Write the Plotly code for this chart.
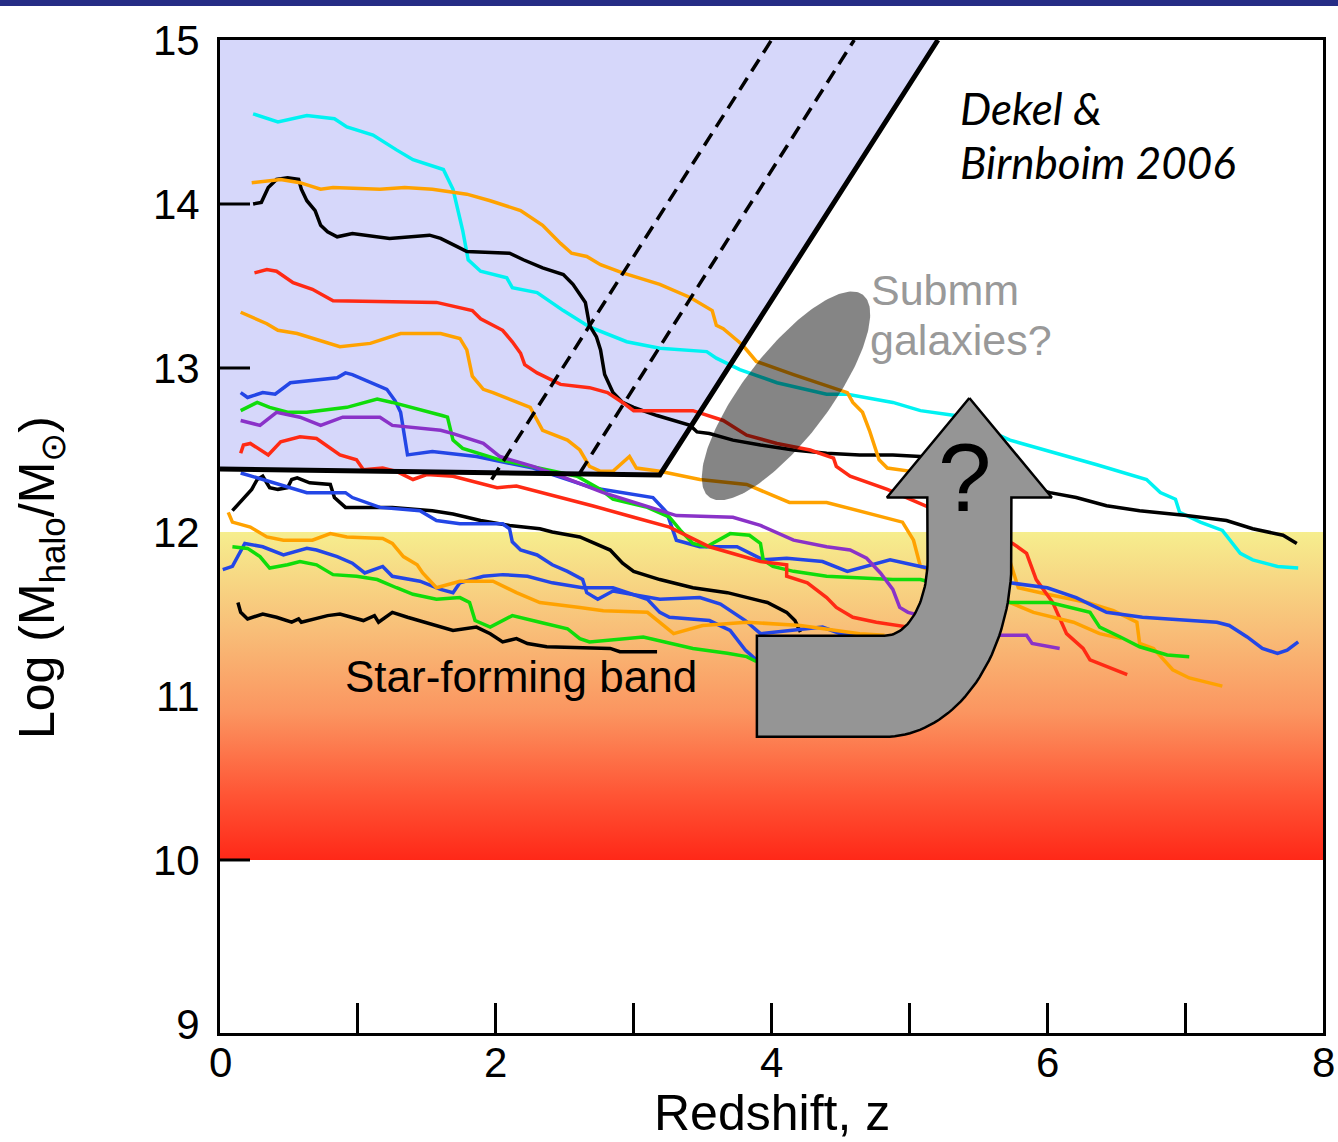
import numpy as np
import plotly.graph_objects as go

# ---------------------------------------------------------------- layout geometry
W, H = 1338, 1142
ML, MR, MT, MB = 220, 15, 40, 109
X_RANGE = [0, 8]
Y_RANGE = [8.945, 15.0]
PLOT_W = W - ML - MR
PLOT_H = H - MT - MB
PX_PER_Z = PLOT_W / (X_RANGE[1] - X_RANGE[0])
PX_PER_M = PLOT_H / (Y_RANGE[1] - Y_RANGE[0])

# ---------------------------------------------------------------- axis ticks
x_tick_vals = [0, 1, 2, 3, 4, 5, 6, 7, 8]
x_label_vals = [0, 2, 4, 6, 8]
y_tick_vals = [9, 10, 11, 12, 13, 14, 15]
y_tick_text = ["9", "10", "11", "12", "13", "14", "15"]
y_tick_marks = [10, 13, 14]

# ---------------------------------------------------------------- regions
# hot-halo (shock heated) zone: cold-flow boundary of Dekel & Birnboim 2006
hot_z = [0.0, 3.19, 5.207, 0.0]
hot_m = [12.384, 12.348, 15.0, 15.0]
boundary_z = [0.0, 3.19, 5.207]
boundary_m = [12.384, 12.348, 15.0]
dash1_z = [1.97, 4.00]
dash1_m = [12.32, 15.0]
dash2_z = [2.61, 4.60]
dash2_m = [12.36, 15.0]

# star-forming band
band_lo, band_hi = 10.0, 12.0

# submm ellipse (centre in data units, semi-axes in screen pixels, tilt in degrees)
ell_center = (4.105, 12.83)
ell_axes_px = (127, 43)
ell_tilt_deg = 52.7

# ---------------------------------------------------------------- halo mass tracks
z_cyan = [0.24, 0.42, 0.63, 0.83, 0.92, 1.11, 1.28, 1.40, 1.62, 1.69, 1.76, 1.80, 1.89, 2.08, 2.12, 2.30,
          2.49, 2.68, 2.95, 3.19, 3.53, 3.60, 3.77, 4.04, 4.40, 4.55, 4.88, 5.08, 5.33, 5.73, 6.36, 6.72,
          6.82, 6.93, 6.96, 7.11, 7.27, 7.40, 7.49, 7.67, 7.82]
m_cyan = [14.55, 14.50, 14.54, 14.52, 14.47, 14.42, 14.33, 14.27, 14.21, 14.09, 13.84, 13.66, 13.59, 13.55,
          13.49, 13.46, 13.35, 13.25, 13.16, 13.12, 13.10, 13.06, 12.99, 12.91, 12.84, 12.84, 12.79, 12.74,
          12.71, 12.56, 12.41, 12.32, 12.24, 12.20, 12.12, 12.06, 12.01, 11.87, 11.83, 11.79, 11.78]

z_black1 = [0.24, 0.30, 0.35, 0.41, 0.49, 0.57, 0.59, 0.63, 0.69, 0.73, 0.78, 0.85, 0.96, 1.23, 1.52, 1.60,
            1.72, 1.79, 2.10, 2.20, 2.34, 2.49, 2.56, 2.65, 2.68, 2.73, 2.76, 2.79, 2.85, 2.92, 3.00, 3.17,
            3.41, 3.46, 3.55, 3.72, 3.92, 4.16, 4.40, 4.64, 4.88, 5.08, 6.02, 6.21, 6.43, 6.67, 7.01, 7.30,
            7.49, 7.71, 7.81]
m_black1 = [14.00, 14.01, 14.10, 14.15, 14.16, 14.15, 14.09, 14.02, 13.96, 13.87, 13.83, 13.80, 13.82, 13.79,
            13.81, 13.79, 13.74, 13.71, 13.70, 13.66, 13.61, 13.57, 13.51, 13.40, 13.26, 13.19, 13.11, 12.96,
            12.85, 12.79, 12.76, 12.71, 12.65, 12.61, 12.60, 12.56, 12.53, 12.50, 12.48, 12.47, 12.47, 12.46,
            12.24, 12.21, 12.16, 12.13, 12.10, 12.07, 12.02, 11.98, 11.93]

z_orange1 = [0.23, 0.44, 0.58, 0.73, 0.82, 1.16, 1.34, 1.54, 1.79, 1.96, 2.18, 2.34, 2.47, 2.55, 2.66, 2.76,
             2.92, 3.19, 3.41, 3.57, 3.60, 3.65, 3.79, 3.89, 4.16, 4.55, 4.59, 4.66, 4.71, 4.78, 4.84, 5.01,
             5.73, 5.79, 6.00, 6.29, 6.48, 6.65, 6.67, 6.77, 6.91, 7.03, 7.27]
m_orange1 = [14.13, 14.15, 14.13, 14.09, 14.10, 14.09, 14.10, 14.09, 14.06, 14.02, 13.96, 13.87, 13.76, 13.70,
             13.68, 13.63, 13.58, 13.51, 13.43, 13.35, 13.26, 13.24, 13.14, 13.04, 12.96, 12.85, 12.79, 12.73,
             12.62, 12.44, 12.39, 12.37, 11.82, 11.66, 11.62, 11.57, 11.52, 11.45, 11.32, 11.29, 11.16, 11.11,
             11.06]

z_red1 = [0.25, 0.34, 0.41, 0.53, 0.67, 0.82, 1.57, 1.83, 1.89, 2.05, 2.12, 2.18, 2.21, 2.30, 2.47, 2.68,
          2.81, 2.92, 3.00, 3.43, 3.65, 3.82, 4.04, 4.28, 4.45, 4.47, 4.57, 4.84, 5.75, 5.85, 5.92, 6.04,
          6.14, 6.26, 6.31, 6.48, 6.58]
m_red1 = [13.58, 13.60, 13.59, 13.52, 13.48, 13.41, 13.40, 13.35, 13.30, 13.23, 13.16, 13.09, 13.02, 12.97,
          12.90, 12.88, 12.85, 12.79, 12.74, 12.74, 12.68, 12.59, 12.54, 12.50, 12.45, 12.40, 12.34, 12.26,
          11.93, 11.87, 11.71, 11.57, 11.38, 11.29, 11.22, 11.16, 11.13]

z_orange2 = [0.15, 0.34, 0.42, 0.56, 0.87, 1.09, 1.31, 1.60, 1.74, 1.79, 1.83, 1.91, 1.98, 2.25, 2.34, 2.52,
             2.61, 2.68, 2.76, 2.85, 2.97, 3.02, 3.19, 3.48, 3.82, 4.13, 4.40, 4.64, 4.95, 5.03, 5.08, 5.73,
             5.90, 6.19, 6.38, 6.54]
m_orange2 = [13.34, 13.27, 13.23, 13.21, 13.13, 13.15, 13.21, 13.21, 13.18, 13.11, 12.95, 12.87, 12.85, 12.76,
             12.62, 12.56, 12.50, 12.40, 12.37, 12.37, 12.46, 12.39, 12.37, 12.32, 12.29, 12.18, 12.18, 12.13,
             12.06, 11.95, 11.79, 11.57, 11.51, 11.45, 11.38, 11.35]

z_blue1 = [0.15, 0.20, 0.31, 0.40, 0.51, 0.85, 0.91, 0.96, 1.21, 1.27, 1.31, 1.36, 1.54, 1.86, 2.27, 2.70,
           3.14, 3.24, 3.31, 3.48, 3.75, 3.94, 4.11, 4.37, 4.55, 4.86, 5.08, 5.73, 6.00, 6.21, 6.43, 6.69,
           7.23, 7.32, 7.45, 7.56, 7.67, 7.74, 7.82]
m_blue1 = [12.85, 12.82, 12.85, 12.84, 12.91, 12.94, 12.97, 12.96, 12.87, 12.80, 12.73, 12.47, 12.49, 12.46,
           12.39, 12.27, 12.21, 12.12, 11.95, 11.91, 11.91, 11.83, 11.84, 11.82, 11.76, 11.83, 11.79, 11.69,
           11.66, 11.60, 11.51, 11.48, 11.45, 11.43, 11.36, 11.29, 11.26, 11.28, 11.33]

z_green1 = [0.15, 0.27, 0.36, 0.49, 0.63, 0.92, 1.14, 1.25, 1.61, 1.65, 1.69, 1.76, 2.03, 2.37, 2.59, 2.76,
            2.85, 3.10, 3.26, 3.34, 3.43, 3.53, 3.70, 3.84, 3.92, 3.94, 4.01, 4.16, 4.40, 4.88, 5.08, 5.73,
            6.02, 6.31, 6.38, 6.53, 6.67, 6.87, 7.03]
m_green1 = [12.74, 12.79, 12.76, 12.73, 12.73, 12.76, 12.81, 12.79, 12.71, 12.70, 12.56, 12.51, 12.44, 12.38,
            12.34, 12.26, 12.20, 12.15, 12.09, 12.01, 11.93, 11.91, 11.99, 11.98, 11.93, 11.83, 11.79, 11.76,
            11.73, 11.71, 11.71, 11.57, 11.57, 11.51, 11.42, 11.36, 11.30, 11.25, 11.24]

z_purple = [0.15, 0.29, 0.41, 0.58, 0.73, 0.89, 1.16, 1.25, 1.60, 1.69, 1.91, 2.03, 2.27, 2.47, 2.78, 3.19,
            3.31, 3.72, 3.92, 4.16, 4.40, 4.57, 4.69, 4.79, 4.88, 4.93, 4.99, 5.66, 5.85, 5.89, 6.09]
m_purple = [12.68, 12.65, 12.73, 12.70, 12.65, 12.70, 12.70, 12.65, 12.62, 12.60, 12.54, 12.46, 12.40, 12.34,
            12.24, 12.13, 12.10, 12.09, 12.04, 11.95, 11.91, 11.89, 11.84, 11.75, 11.65, 11.54, 11.51, 11.37,
            11.37, 11.32, 11.29]

z_red2 = [0.15, 0.17, 0.22, 0.35, 0.44, 0.58, 0.70, 0.87, 0.99, 1.04, 1.18, 1.28, 1.40, 1.50, 1.69, 2.01,
          2.15, 2.39, 2.70, 3.00, 3.26, 3.55, 3.92, 4.11, 4.11, 4.26, 4.40, 4.47, 4.59, 4.76, 4.93, 5.15]
m_red2 = [12.48, 12.53, 12.54, 12.47, 12.55, 12.58, 12.57, 12.47, 12.44, 12.38, 12.39, 12.37, 12.32, 12.35,
          12.34, 12.27, 12.28, 12.23, 12.16, 12.09, 12.03, 11.91, 11.82, 11.80, 11.73, 11.69, 11.60, 11.54,
          11.48, 11.45, 11.43, 11.40]

z_black2 = [0.09, 0.17, 0.23, 0.27, 0.31, 0.36, 0.42, 0.49, 0.52, 0.56, 0.65, 0.80, 0.83, 0.91, 1.02, 1.25,
            1.54, 1.69, 1.89, 2.10, 2.32, 2.41, 2.61, 2.83, 2.92, 3.00, 3.19, 3.43, 3.68, 3.97, 4.11, 4.17,
            4.21]
m_black2 = [12.13, 12.20, 12.26, 12.32, 12.34, 12.27, 12.26, 12.27, 12.32, 12.33, 12.30, 12.29, 12.21, 12.15,
            12.15, 12.15, 12.13, 12.11, 12.07, 12.04, 12.02, 12.00, 11.97, 11.89, 11.81, 11.76, 11.71, 11.66,
            11.63, 11.57, 11.51, 11.46, 11.39]

z_blue2 = [0.15, 0.27, 0.49, 0.63, 0.80, 0.91, 0.96, 1.07, 1.16, 1.45, 1.57, 1.74, 2.05, 2.10, 2.12, 2.18,
           2.30, 2.41, 2.52, 2.63, 2.66, 2.74, 2.85, 3.19, 3.48, 3.63, 3.81, 3.92, 4.13, 4.37, 4.50, 4.64]
m_blue2 = [12.36, 12.33, 12.27, 12.24, 12.24, 12.24, 12.21, 12.18, 12.15, 12.13, 12.07, 12.05, 12.05, 12.02,
           11.94, 11.89, 11.86, 11.80, 11.76, 11.71, 11.63, 11.59, 11.64, 11.59, 11.60, 11.56, 11.46, 11.38,
           11.40, 11.42, 11.38, 11.37]

z_blue3 = [0.02, 0.09, 0.18, 0.31, 0.46, 0.63, 0.70, 0.85, 0.96, 1.05, 1.18, 1.25, 1.45, 1.60, 1.69, 1.74,
           1.91, 2.05, 2.23, 2.41, 2.63, 2.85, 3.10, 3.19, 3.26, 3.55, 3.70, 3.81, 3.89]
m_blue3 = [11.77, 11.79, 11.93, 11.91, 11.86, 11.90, 11.89, 11.85, 11.81, 11.75, 11.79, 11.73, 11.70, 11.65,
           11.63, 11.69, 11.73, 11.74, 11.73, 11.69, 11.66, 11.66, 11.59, 11.51, 11.48, 11.46, 11.40, 11.28,
           11.22]

z_orange3 = [0.06, 0.09, 0.22, 0.34, 0.46, 0.67, 0.80, 0.92, 1.18, 1.25, 1.33, 1.43, 1.47, 1.57, 1.74, 1.98,
             2.15, 2.32, 2.61, 2.78, 3.10, 3.29, 3.50, 3.82, 4.21, 4.64, 4.82]
m_orange3 = [12.12, 12.06, 12.03, 11.97, 11.95, 11.95, 11.99, 11.97, 11.96, 11.93, 11.85, 11.80, 11.75, 11.66,
             11.70, 11.70, 11.63, 11.57, 11.54, 11.52, 11.51, 11.38, 11.43, 11.45, 11.43, 11.38, 11.37]

z_green2 = [0.09, 0.20, 0.29, 0.36, 0.49, 0.58, 0.70, 0.82, 0.99, 1.14, 1.28, 1.40, 1.57, 1.74, 1.81, 1.85,
            1.96, 2.12, 2.32, 2.52, 2.61, 2.68, 3.07, 3.43, 3.68, 3.82, 3.89]
m_green2 = [11.91, 11.90, 11.85, 11.78, 11.80, 11.82, 11.80, 11.74, 11.73, 11.71, 11.66, 11.62, 11.59, 11.60,
            11.57, 11.46, 11.42, 11.49, 11.45, 11.41, 11.35, 11.33, 11.36, 11.29, 11.26, 11.24, 11.21]

z_black3 = [0.13, 0.15, 0.20, 0.31, 0.41, 0.52, 0.57, 0.59, 0.78, 0.87, 1.04, 1.12, 1.15, 1.25, 1.36, 1.69,
            1.86, 1.96, 2.05, 2.15, 2.23, 2.37, 2.83, 2.90, 3.17]
m_black3 = [11.57, 11.51, 11.47, 11.50, 11.48, 11.45, 11.47, 11.45, 11.49, 11.50, 11.46, 11.49, 11.45, 11.51,
            11.48, 11.40, 11.42, 11.38, 11.33, 11.35, 11.32, 11.30, 11.29, 11.27, 11.27]

CYAN, BLACK, ORANGE, RED = "#00f2f2", "#000000", "#ffa200", "#ff2a14"
BLUE, GREEN, PURPLE = "#2346e6", "#10dc0a", "#8a32c8"

tracks = [
    (z_cyan, m_cyan, CYAN), (z_black1, m_black1, BLACK), (z_orange1, m_orange1, ORANGE),
    (z_red1, m_red1, RED), (z_orange2, m_orange2, ORANGE), (z_blue1, m_blue1, BLUE),
    (z_green1, m_green1, GREEN), (z_purple, m_purple, PURPLE), (z_red2, m_red2, RED),
    (z_black2, m_black2, BLACK), (z_blue2, m_blue2, BLUE), (z_blue3, m_blue3, BLUE),
    (z_orange3, m_orange3, ORANGE), (z_green2, m_green2, GREEN), (z_black3, m_black3, BLACK),
]

# ---------------------------------------------------------------- arrow geometry (data units)
arrow_axis_z = 5.435          # centre line of the vertical shaft
arrow_tip_m = 12.817
arrow_head_base_m = 12.21
arrow_head_half = 0.598
arrow_shaft_half = 0.305
bend_center = (4.82, 11.83)
bend_outer = (0.921, 1.079)
bend_inner = (0.312, 0.463)
arm_left_z = 3.894

fig = go.Figure()

# hot-halo zone
fig.add_trace(go.Scatter(x=hot_z + [hot_z[0]], y=hot_m + [hot_m[0]], mode="lines", fill="toself",
                         fillcolor="#d6d7fa", line=dict(width=0), hoverinfo="skip", showlegend=False))

# star-forming band with vertical colour gradient
fig.add_trace(go.Scatter(
    x=[X_RANGE[0], X_RANGE[1], X_RANGE[1], X_RANGE[0], X_RANGE[0]],
    y=[band_lo, band_lo, band_hi, band_hi, band_lo],
    mode="lines", fill="toself", line=dict(width=0), hoverinfo="skip", showlegend=False,
    fillgradient=dict(type="vertical", start=band_lo, stop=band_hi,
                      colorscale=[[0.0, "#ff2818"], [0.2, "#ff5535"], [0.45, "#fb9560"],
                                  [0.7, "#f8be78"], [1.0, "#f6ee8e"]])))

for zs, ms, col in tracks:
    fig.add_trace(go.Scatter(x=zs, y=ms, mode="lines", line=dict(color=col, width=3.5),
                             hoverinfo="skip", showlegend=False))

# boundary of the hot-halo zone and the dashed variants
fig.add_trace(go.Scatter(x=boundary_z, y=boundary_m, mode="lines",
                         line=dict(color="black", width=5), hoverinfo="skip", showlegend=False))
for dz, dm in [(dash1_z, dash1_m), (dash2_z, dash2_m)]:
    fig.add_trace(go.Scatter(x=dz, y=dm, mode="lines",
                             line=dict(color="black", width=3.5, dash="14px,8px"),
                             hoverinfo="skip", showlegend=False))

# submm ellipse, built in screen space then mapped to data units
t = np.linspace(0, 2 * np.pi, 200)
th = np.radians(ell_tilt_deg)
a_px, b_px = ell_axes_px
sx = a_px * np.cos(t) * np.cos(th) - b_px * np.sin(t) * np.sin(th)
sy = a_px * np.cos(t) * np.sin(th) + b_px * np.sin(t) * np.cos(th)
fig.add_trace(go.Scatter(x=ell_center[0] + sx / PX_PER_Z, y=ell_center[1] + sy / PX_PER_M,
                         mode="lines", fill="toself", fillcolor="rgba(0,0,0,0.48)",
                         line=dict(width=0), hoverinfo="skip", showlegend=False))

# curved arrow
cz, cm = bend_center
ang_out = np.linspace(0, -np.pi / 2, 40)
ang_in = np.linspace(-np.pi / 2, 0, 40)
az = ([arrow_axis_z, arrow_axis_z + arrow_head_half, arrow_axis_z + arrow_shaft_half]
      + list(cz + bend_outer[0] * np.cos(ang_out))
      + [arm_left_z, arm_left_z]
      + list(cz + bend_inner[0] * np.cos(ang_in))
      + [arrow_axis_z - arrow_shaft_half, arrow_axis_z - arrow_head_half, arrow_axis_z])
am = ([arrow_tip_m, arrow_head_base_m, arrow_head_base_m]
      + list(cm + bend_outer[1] * np.sin(ang_out))
      + [cm - bend_outer[1], cm - bend_inner[1]]
      + list(cm + bend_inner[1] * np.sin(ang_in))
      + [arrow_head_base_m, arrow_head_base_m, arrow_tip_m])
fig.add_trace(go.Scatter(x=az, y=am, mode="lines", fill="toself", fillcolor="#959595",
                         line=dict(color="black", width=2.5), hoverinfo="skip", showlegend=False))

# ---------------------------------------------------------------- text
SANS = "Liberation Sans, Arial, sans-serif"
ann = [
    dict(x=5.40, y=12.33, text="?", font=dict(size=96, color="black", family=SANS),
         xanchor="center", yanchor="middle"),
    dict(x=5.35, y=14.585, text="<i>Dekel &amp;</i>", font=dict(size=44, color="black", family="Lato"),
         xanchor="left", yanchor="middle"),
    dict(x=5.35, y=14.256, text="<i>Birnboim 2006</i>", font=dict(size=44, color="black", family="Lato"),
         xanchor="left", yanchor="middle"),
    dict(x=4.71, y=13.476, text="Submm", font=dict(size=43, color="#999999", family=SANS),
         xanchor="left", yanchor="middle"),
    dict(x=4.70, y=13.17, text="galaxies?", font=dict(size=43, color="#999999", family=SANS),
         xanchor="left", yanchor="middle"),
    dict(x=0.89, y=11.116, text="Star-forming band", font=dict(size=44, color="black", family=SANS),
         xanchor="left", yanchor="middle"),
]
for a in ann:
    a.update(xref="x", yref="y", showarrow=False)

# redshift tick labels
for v in x_label_vals:
    ann.append(dict(xref="x", yref="paper", x=v, y=-29 / PLOT_H, text=str(v), showarrow=False,
                    xanchor="center", yanchor="middle",
                    font=dict(size=42, color="black", family=SANS)))

ann.append(dict(xref="paper", yref="paper", x=(772 - ML) / PLOT_W, y=-80 / PLOT_H,
                text="Redshift, z", showarrow=False, xanchor="center", yanchor="middle",
                font=dict(size=50, color="black", family=SANS)))
ann.append(dict(xref="paper", yref="paper", x=(40 - ML) / PLOT_W, y=456 / PLOT_H,
                text="Log (M<sub>halo</sub>/M<sub>\u2299</sub>)", showarrow=False, textangle=-90,
                xanchor="center", yanchor="middle", font=dict(size=50, color="black", family=SANS)))

# tick marks on the mass axis
shapes = [dict(type="line", xref="paper", yref="y", x0=0, x1=30 / PLOT_W, y0=v, y1=v,
               line=dict(color="black", width=3), layer="above") for v in y_tick_marks]
# header bar
shapes.append(dict(type="rect", xref="paper", yref="paper", x0=-ML / PLOT_W, x1=1 + MR / PLOT_W,
                   y0=1 + (MT - 6) / PLOT_H, y1=1 + MT / PLOT_H, fillcolor="#262c85",
                   line=dict(width=0), layer="above"))

fig.update_layout(
    width=W, height=H, margin=dict(l=ML, r=MR, t=MT, b=MB, autoexpand=False),
    plot_bgcolor="white", paper_bgcolor="white", showlegend=False,
    annotations=ann, shapes=shapes,
    xaxis=dict(range=X_RANGE, tickvals=x_tick_vals, showticklabels=False, ticks="inside", ticklen=30,
               tickwidth=3, tickcolor="black", showline=True, linewidth=3, linecolor="black",
               mirror=True, showgrid=False, zeroline=False),
    yaxis=dict(range=Y_RANGE, tickvals=y_tick_vals, ticktext=y_tick_text, ticks="",
               showline=True, linewidth=3, linecolor="black", mirror=True, showgrid=False,
               zeroline=False, ticklabelstandoff=9,
               tickfont=dict(size=42, color="black", family=SANS)),
)

fig.write_html("out.html")
